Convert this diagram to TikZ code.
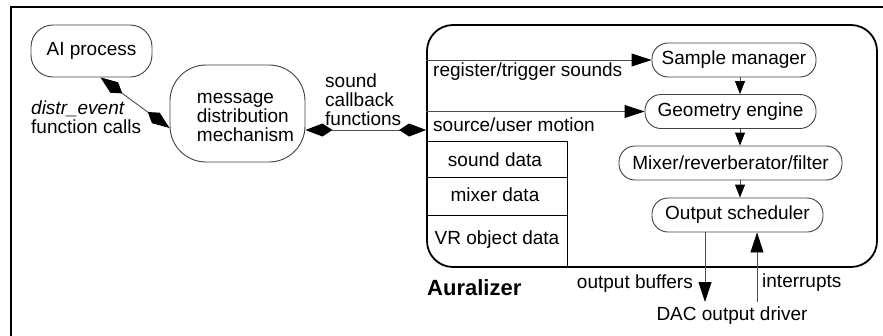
\documentclass[tikz,border=0pt]{standalone}
\usepackage{fontspec}
\setmainfont{Liberation Sans}
\usetikzlibrary{arrows.meta}
\newcommand{\mylines}[1]{\begin{tabular}[t]{@{}l@{}}#1\end{tabular}}
\tikzset{
  every node/.style={font=\fontsize{19}{18.5}\selectfont, inner sep=0pt},
  proc/.style={draw=black!75, line width=0.9pt, rounded corners=16pt, minimum height=34pt},
  conn/.style={draw=black!70, line width=0.9pt},
  tri/.style={conn, -{Triangle[length=20pt,width=13pt,color=black]}},
  smalltri/.style={conn, -{Triangle[length=13pt,width=10pt,color=black]}},
  kites/.style={conn, {Kite[length=27pt,width=13pt,inset=10pt,color=black]}-{Kite[length=27pt,width=13pt,inset=10pt,color=black]}},
  lbl/.style={anchor=base west},
}
\begin{document}
\begin{tikzpicture}[x=1pt,y=-1pt]
\useasboundingbox (0,0) rectangle (883,335);
% outer frame
\draw[line width=2.5pt] (11,336) -- (11,7) -- (884,7);
% Auralizer container
\node[draw=black, line width=1.8pt, rounded corners=26pt, minimum width=450pt, minimum height=242pt] (aur) at (652,146) {};
% process nodes
\node[proc, minimum width=121pt, minimum height=52pt, rounded corners=22pt] (ai) at (91.5,51) {AI process};
\node[proc, minimum width=135pt, minimum height=97pt, rounded corners=36pt, text height=5pt, text depth=26pt] (msg) at (237.5,113.5) {\hspace*{16pt}\mylines{message\\distribution\\mechanism}};
\node[proc, minimum width=164pt] (sm) at (734,60) {Sample manager};
\node[proc, minimum width=171pt] (ge) at (730.5,111.5) {Geometry engine};
\node[proc, minimum width=223pt] (mx) at (730.5,163) {Mixer/reverberator/filter};
\node[proc, minimum width=171pt] (os) at (737.5,215) {Output scheduler};
% data table inside Auralizer
\coordinate (tr) at (567,141);
\coordinate (r1) at (567,177);
\coordinate (r2) at (567,215);
\draw[line width=0.9pt] (aur.west |- tr) -- (tr) -- (tr |- aur.south);
\draw[line width=0.9pt] (aur.west |- r1) -- (r1);
\draw[line width=0.9pt] (aur.west |- r2) -- (r2);
% labels
\node[lbl] (rts) at (433,76) {register/trigger sounds};
\node[lbl] (sum) at (433,131) {source/user motion};
\node[anchor=base] (sdat) at (495,166) {sound data};
\node[anchor=base] (mdat) at (495,201) {mixer data};
\node[anchor=base] (vrd) at (497,244) {VR object data};
\node[lbl, font=\fontsize{22}{24}\selectfont\bfseries] (aurl) at (427,295) {Auralizer};
\node[anchor=base east] (ob) at (693,288) {output buffers};
\node[lbl] (intr) at (762,287) {interrupts};
\node[anchor=base] (dac) at (732,320) {DAC output driver};
\node[lbl] (de) at (31,114) {\mylines{\textit{distr\_event}\\function calls}};
\node[lbl] (scf) at (325,87) {\mylines{sound\\callback\\functions}};
% connectors
\draw[kites] ([xshift=9pt]ai.south) -- ([yshift=-14.5pt]msg.west);
\coordinate (cb) at (0,130);
\draw[kites] (msg.east |- cb) -- (aur.west |- cb);
\draw[tri] (aur.west |- sm.west) -- (sm.west);
\draw[tri] (aur.west |- ge.west) -- (ge.west);
\coordinate (ax) at (740,0);
\draw[smalltri] (sm.south -| ax) -- (ge.north -| ax);
\draw[smalltri] (ge.south -| ax) -- (mx.north -| ax);
\draw[smalltri] (mx.south -| ax) -- (os.north -| ax);
\coordinate (obx) at (705,0);
\coordinate (inx) at (757,0);
\coordinate (dtop) at ([yshift=4pt]dac.north);
\draw[tri] (os.south -| obx) -- (dtop -| obx);
\draw[tri] (dtop -| inx) -- (os.south -| inx);
\end{tikzpicture}
\end{document}
